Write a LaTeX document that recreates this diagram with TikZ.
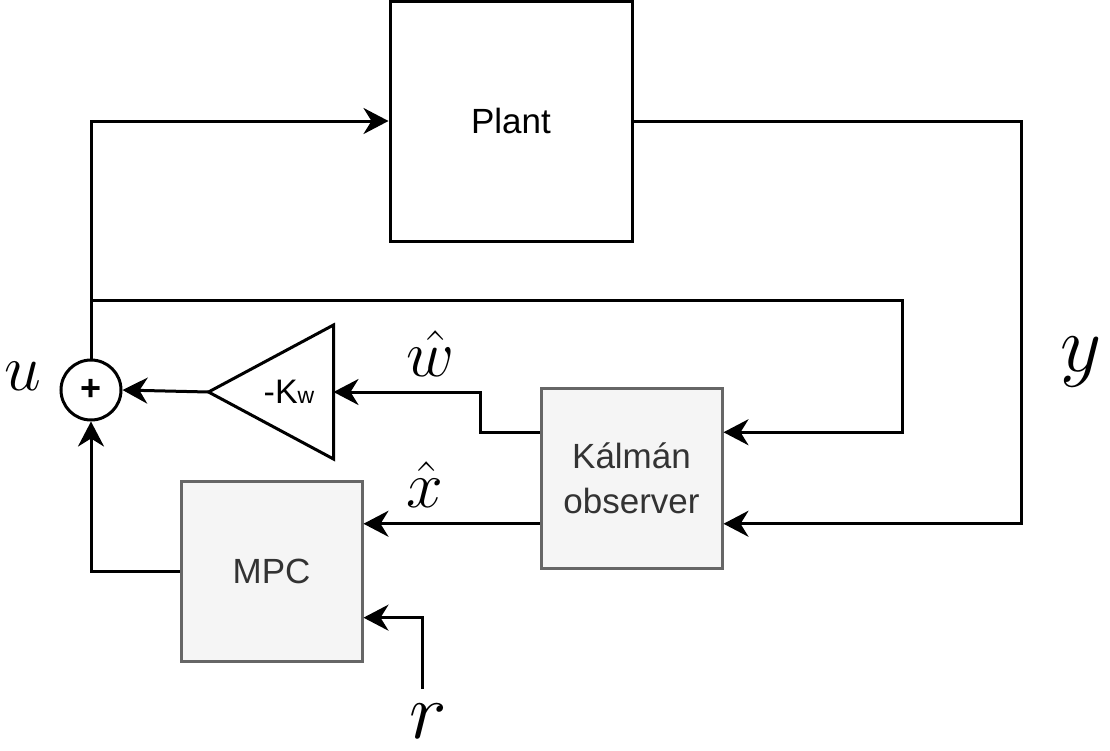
\RequirePackage{fix-cm}
\documentclass[tikz,border=0pt]{standalone}
\usepackage{amsmath}
\usepackage{fontspec}
\usetikzlibrary{arrows.meta,calc}
\newfontfamily\blockfont{Liberation Sans}
\definecolor{boxgray}{HTML}{F5F5F5}
\definecolor{edgegray}{HTML}{666666}
\definecolor{textgray}{HTML}{333333}

\begin{document}
\begin{tikzpicture}[x=1pt,y=-1pt,line width=3pt]
	\tikzset{sig/.style={-{Stealth[length=25pt,width=26pt,inset=8pt]}}}
	\tikzset{plantbox/.style={draw,minimum width=242pt,minimum height=240pt,font=\blockfont\fontsize{35}{42}\selectfont}}
	\tikzset{graybox/.style={draw=edgegray,fill=boxgray,text=textgray,minimum width=181pt,minimum height=180pt,align=center,font=\blockfont\fontsize{35}{45}\selectfont}}
	\tikzset{sumnode/.style={draw,circle,inner sep=0pt,minimum size=60pt,font=\blockfont\bfseries\fontsize{36}{36}\selectfont}}
	\tikzset{siglabel/.style={anchor=base,inner sep=0pt,font=\fontsize{66}{66}\selectfont}}
	\tikzset{biglabel/.style={anchor=base,inner sep=0pt,font=\fontsize{80}{80}\selectfont}}
	\useasboundingbox (0,0) rectangle (1110,750);
	% blocks
	\node[plantbox] (plant) at (511,121) {Plant};
	\node[sumnode] (sum) at (91,390) {+};
	\node[inner sep=0pt,minimum width=122pt,minimum height=131pt] (gain) at (271,392) {};
	\draw[line join=miter] (gain.north east) -- (gain.west) -- (gain.south east) -- cycle;
	\node[font=\blockfont\fontsize{34}{34}\selectfont] (gaintext) at ([xshift=18pt]gain.center) {-K{\fontsize{23}{23}\selectfont w}};
	\node[graybox] (kalman) at (631.5,478) {Kálmán\\observer};
	\node[graybox] (mpc) at (271.5,571) {MPC};
	% ports
	\coordinate (kwin) at ($(kalman.north east)!0.25!(kalman.south east)$);
	\coordinate (kyin) at ($(kalman.north east)!0.75!(kalman.south east)$);
	\coordinate (kwout) at ($(kalman.north west)!0.25!(kalman.south west)$);
	\coordinate (kxout) at ($(kalman.north west)!0.75!(kalman.south west)$);
	\coordinate (mpcr) at ($(mpc.north east)!0.755!(mpc.south east)$);
	\coordinate (fbstart) at (91,300);
	\coordinate (fbcorner) at (902,300);
	\coordinate (ycorner) at (1021,121);
	\coordinate (rin) at (422,689);
	% signals
	\draw[sig] (sum.north) |- (plant.west);
	\draw[sig] (fbstart) -- (fbcorner) |- (kwin);
	\draw[sig] (plant.east) -- (ycorner) |- (kyin);
	\draw[sig] (kwout) -- ++(-59,0) |- (gain.east);
	\draw[sig] (gain.west) -- (sum.east);
	\draw[sig] (kxout) -- (kxout -| mpc.east);
	\draw[sig] (mpc.west) -| (sum.south);
	\draw[sig] (rin) |- (mpcr);
	% labels
	\node[siglabel] (ulabel) at (23,390) {$u$};
	\node[biglabel] (ylabel) at (1081,371) {$y$};
	\node[siglabel] (wlabel) at (430,376) {$\hat{w}$};
	\node[siglabel] (xlabel) at (425,507) {$\hat{x}$};
	\node[biglabel] (rlabel) at (428,738) {$r$};
\end{tikzpicture}
\end{document}
